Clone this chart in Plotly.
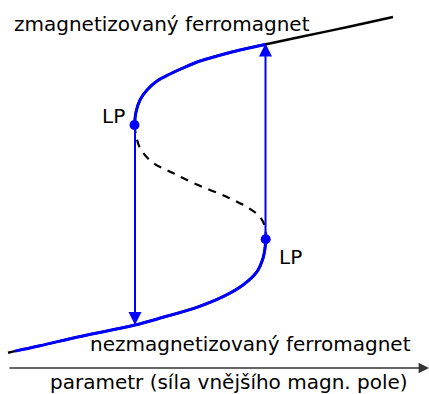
import plotly.graph_objects as go

# Schematic S-curve (parameter vs. magnetisation), arbitrary units
lower_x = [8, 15, 40, 80, 135, 163, 197, 223, 243, 257, 263, 265, 265.7]
lower_y = [41.3, 42.9, 48.3, 57.5, 69, 76.7, 86.7, 97.3, 109, 122.3, 135.7, 145.7, 154.7]

middle_x = [134.5, 136, 140, 152, 173, 198, 227, 247, 260, 265, 265.7]
middle_y = [269, 259, 246, 232, 221, 209, 197, 187, 177, 167, 154.7]

upper_x = [134.5, 136, 140, 147, 157, 170, 183, 200, 217, 240, 265, 300, 350, 393]
upper_y = [269, 282, 294, 304, 313, 320, 326, 333, 338, 344, 349.5, 357, 367.5, 377]

lp_x = [134.5, 265.7]
lp_y = [269, 154.7]

jump_down_x = 135
jump_down_from, jump_down_to = 269, 69
jump_up_x = 265.5
jump_up_from, jump_up_to = 154.7, 350.5

axis_y = 26
axis_x0, axis_x1 = 8, 429

label_top = "zmagnetizovaný ferromagnet"
label_bottom = "nezmagnetizovaný ferromagnet"
label_axis = "parametr (síla vnějšího magn. pole)"
label_lp = "LP"

BLUE = "#0000ff"
FONT = "DejaVu Sans"

fig = go.Figure()

# black full branches
fig.add_trace(go.Scatter(x=lower_x, y=lower_y, mode="lines", line=dict(color="black", width=2.5, shape="spline"), hoverinfo="skip"))
fig.add_trace(go.Scatter(x=upper_x, y=upper_y, mode="lines", line=dict(color="black", width=2.5, shape="spline"), hoverinfo="skip"))
fig.add_trace(go.Scatter(x=middle_x, y=middle_y, mode="lines", line=dict(color="black", width=2.2, dash="8px,7px", shape="spline"), hoverinfo="skip"))

# blue hysteresis path
n_up = upper_x.index(265) + 1
fig.add_trace(go.Scatter(x=upper_x[:n_up], y=upper_y[:n_up], mode="lines", line=dict(color=BLUE, width=3, shape="spline"), hoverinfo="skip"))
fig.add_trace(go.Scatter(x=lower_x[1:], y=lower_y[1:], mode="lines", line=dict(color=BLUE, width=3, shape="spline"), hoverinfo="skip"))

# limit points
fig.add_trace(go.Scatter(x=lp_x, y=lp_y, mode="markers", marker=dict(color=BLUE, size=10), hoverinfo="skip"))

# jump arrows
fig.add_annotation(x=jump_down_x, y=jump_down_to, ax=jump_down_x, ay=jump_down_from, xref="x", yref="y", axref="x", ayref="y",
                   showarrow=True, arrowhead=2, arrowsize=1.3, arrowwidth=2, arrowcolor=BLUE, text="")
fig.add_annotation(x=jump_up_x, y=jump_up_to, ax=jump_up_x, ay=jump_up_from, xref="x", yref="y", axref="x", ayref="y",
                   showarrow=True, arrowhead=2, arrowsize=1.3, arrowwidth=2, arrowcolor=BLUE, text="")
# parameter axis
fig.add_annotation(x=axis_x1, y=axis_y, ax=axis_x0, ay=axis_y, xref="x", yref="y", axref="x", ayref="y",
                   showarrow=True, arrowhead=2, arrowsize=1.6, arrowwidth=1.3, arrowcolor="#333333", text="")

tf = dict(family=FONT, size=20, color="black")
fig.add_annotation(x=12, y=370.5, xref="x", yref="y", text=label_top, showarrow=False, xanchor="left", yanchor="middle", font=tf)
fig.add_annotation(x=88, y=50, xref="x", yref="y", text=label_bottom, showarrow=False, xanchor="left", yanchor="middle", font=tf)
fig.add_annotation(x=48, y=12, xref="x", yref="y", text=label_axis, showarrow=False, xanchor="left", yanchor="middle", font=tf)
fig.add_annotation(x=127, y=278, xref="x", yref="y", text=label_lp, showarrow=False, xanchor="right", yanchor="middle", font=tf)
fig.add_annotation(x=277, y=137.5, xref="x", yref="y", text=label_lp, showarrow=False, xanchor="left", yanchor="middle", font=tf)

fig.update_layout(
    width=429, height=394, margin=dict(l=0, r=0, t=0, b=0),
    paper_bgcolor="white", plot_bgcolor="white", showlegend=False,
    xaxis=dict(range=[0, 429], visible=False, fixedrange=True),
    yaxis=dict(range=[0, 394], visible=False, fixedrange=True),
)
fig.write_html("out.html", config={"displayModeBar": False},
               post_script="document.body.style.margin='0';document.body.style.overflow='hidden';")
